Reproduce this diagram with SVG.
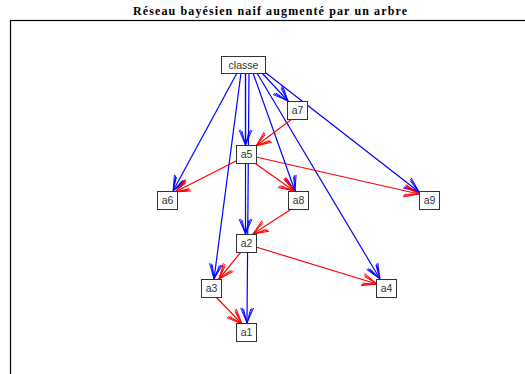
<svg xmlns="http://www.w3.org/2000/svg" width="525" height="374" viewBox="0 0 525 374">
<style>
.t{font-family:"Liberation Serif",serif;font-weight:bold;font-size:12px;fill:#000}
.n rect{fill:#fff;stroke:#333;stroke-width:1}
.n text{font-family:"Liberation Sans",Arial,sans-serif;font-size:10.5px;fill:#333;text-anchor:middle}
.b{stroke:#0000ff;stroke-width:1.2;fill:none;marker-end:url(#ab)}
.r{stroke:#ff0000;stroke-width:1.2;fill:none;marker-end:url(#ar)}
</style>
<defs>
<marker id="ab" markerUnits="userSpaceOnUse" markerWidth="20" markerHeight="20" refX="0" refY="0" orient="auto" overflow="visible">
<path d="M-15,-6.5 L0,0 L-15,6.5 M-14,-3.5 L0,0 L-14,3.5 M-15,-5 L0,0 L-15,5" fill="none" stroke="#0000ff" stroke-width="0.9"/>
</marker>
<marker id="ar" markerUnits="userSpaceOnUse" markerWidth="20" markerHeight="20" refX="0" refY="0" orient="auto" overflow="visible">
<path d="M-15,-6.5 L0,0 L-15,6.5 M-14,-3.5 L0,0 L-14,3.5 M-15,-5 L0,0 L-15,5" fill="none" stroke="#ff0000" stroke-width="0.9"/>
</marker>
</defs>
<rect x="0" y="0" width="525" height="374" fill="#fff"/>
<text class="t" x="270" y="15" text-anchor="middle" textLength="274" lengthAdjust="spacing">Réseau bayésien naif augmenté par un arbre</text>
<rect x="10.5" y="20.5" width="600" height="400" fill="none" stroke="#000" stroke-width="1.2"/>
<g id="connectors">
<path class="b" d="M262,73 L288,101"/>
<path class="b" d="M266,73 L419,192"/>
<path class="b" d="M237,73 L173,191"/>
<path class="b" d="M253,73 L295,191"/>
<path class="b" d="M257,73 L380,279"/>
<path class="b" d="M241,73 L214,279"/>
<path class="b" d="M245.5,73 L245.5,145"/>
<path class="b" d="M245.5,73 L245.5,234"/>
<path class="b" d="M249,73 L247,323"/>
<path class="r" d="M292,119 L256,146"/>
<path class="r" d="M238,160 L175,192"/>
<path class="r" d="M252,161 L294,191"/>
<path class="r" d="M256,157 L419,194"/>
<path class="r" d="M293,208 L253,234"/>
<path class="r" d="M241,252 L219,279"/>
<path class="r" d="M256,247 L377,284"/>
<path class="r" d="M216,297 L242,324"/>
</g>
<g id="classe" class="n"><rect x="221.5" y="56.5" width="44" height="17"/><text x="243.5" y="68.5">classe</text></g>
<g id="a7" class="n"><rect x="287.5" y="101.5" width="20" height="18"/><text x="297.5" y="114">a7</text></g>
<g id="a5" class="n"><rect x="236.5" y="145.5" width="20" height="18"/><text x="246.5" y="158">a5</text></g>
<g id="a6" class="n"><rect x="157.5" y="191.5" width="20" height="18"/><text x="167.5" y="204">a6</text></g>
<g id="a8" class="n"><rect x="288.5" y="191.5" width="20" height="18"/><text x="298.5" y="204">a8</text></g>
<g id="a9" class="n"><rect x="419.5" y="191.5" width="20" height="18"/><text x="429.5" y="204">a9</text></g>
<g id="a2" class="n"><rect x="236.5" y="234.5" width="20" height="18"/><text x="246.5" y="247">a2</text></g>
<g id="a3" class="n"><rect x="201.5" y="279.5" width="20" height="18"/><text x="211.5" y="292">a3</text></g>
<g id="a4" class="n"><rect x="376.5" y="279.5" width="20" height="18"/><text x="386.5" y="292">a4</text></g>
<g id="a1" class="n"><rect x="236.5" y="323.5" width="20" height="18"/><text x="246.5" y="336">a1</text></g>
</svg>
